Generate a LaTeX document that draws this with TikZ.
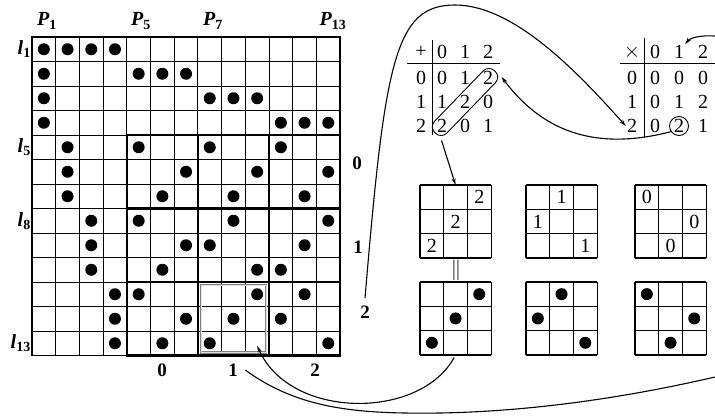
\documentclass[tikz,border=0pt]{standalone}
\usepackage{fontspec}
\setmainfont{Liberation Serif}
\usetikzlibrary{arrows.meta}

\newcommand{\Pl}[2]{{\bfseries\itshape #1}\textsubscript{\bfseries #2}}

\begin{document}
\begin{tikzpicture}[x=1pt,y=1pt,font=\fontsize{20}{22}\selectfont,
  link/.style={line width=1.1pt,-{Stealth[length=7pt,width=4pt]}},
  lab/.style={font=\fontsize{19}{22}\selectfont\bfseries},
  ent/.style={inner sep=1pt},
  thin/.style={line width=1pt},
  heavy/.style={line width=2.5pt}]
\useasboundingbox (0,0) rectangle (715,-416);

% the 13 x 13 grid
\begin{scope}[shift={(32,-37)},x=23.7pt,y=-24.5pt]
\foreach \i in {0,...,13} {
  \draw[thin] (\i,0) -- (\i,13);
  \draw[thin] (0,\i) -- (13,\i);
}
\draw[line width=1.4pt] (0,0) rectangle (13,13);
\draw[heavy] (4,4) rectangle (13,13);
\foreach \k in {7,10} {
  \draw[heavy] (\k,4) -- (\k,13);
  \draw[heavy] (4,\k) -- (13,\k);
}
\foreach \r/\cols in {1/{1,2,3,4},2/{1,5,6,7},3/{1,8,9,10},4/{1,11,12,13},
  5/{2,5,8,11},6/{2,7,10,13},7/{2,6,9,12},8/{3,5,9,13},9/{3,7,8,12},
  10/{3,6,10,11},11/{4,5,10,12},12/{4,7,9,11},13/{4,6,8,13}}
  \foreach \c in \cols
    \fill (\c-0.5,\r-0.5) circle (6pt);
\draw[gray, line width=0.9pt, double=gray!25, double distance=0.8pt]
  ([shift={(3pt,-3pt)}]7,10) rectangle ([shift={(-3pt,3pt)}]10,13);
\coordinate (cell) at (9.5,12.6);
\foreach \r in {1,5,8,13}
  \node[anchor=east, inner sep=1pt] (l\r) at (0,\r-0.5) {\Pl{l}{\r}};
\end{scope}

\node (p1) at (47,-21) {\Pl{P}{1}};
\node (p5) at (141,-21) {\Pl{P}{5}};
\node (p7) at (213,-21) {\Pl{P}{7}};
\node (p13) at (333,-21) {\Pl{P}{13}};

\node[lab] (r0) at (357,-163) {0};
\node[lab] (r1) at (358,-247) {1};
\node[lab] (r2) at (365,-312) {2};
\node[lab] (c0) at (162,-370) {0};
\node[lab] (c1) at (233,-370) {1};
\node[lab] (c2) at (315,-370) {2};

% addition table
\node[ent] (ah) at (421,-52) {+};
\foreach \v [count=\c] in {0,1,2}
  \node[ent] (ah\c) at (419+23*\c,-52) {\v};
\foreach \v/\ents [count=\r] in {0/{0,1,2},1/{1,2,0},2/{2,0,1}} {
  \node[ent] (ar\r) at (421,-54-24*\r) {\v};
  \foreach \e [count=\c] in \ents
    \node[ent] (a\r\c) at (419+23*\c,-54-24*\r) {\e};
}
\draw[line width=1pt] (407,-63) -- (500,-63);
\draw[line width=1pt] (432,-40) -- (432,-135);
\node[draw, line width=0.9pt, rounded corners=8pt, minimum width=86pt,
  minimum height=17pt, rotate=46] (diag) at (465,-102) {};

% multiplication table
\node[ent] (mh) at (632,-52) {$\times$};
\foreach \v [count=\c] in {0,1,2}
  \node[ent] (mh\c) at (631+24*\c,-52) {\v};
\foreach \v/\ents [count=\r] in {0/{0,0,0},1/{0,1,2},2/{0,2,1}} {
  \node[ent] (mr\r) at (632,-54-24*\r) {\v};
  \foreach \e [count=\c] in \ents
    \node[ent] (m\r\c) at (631+24*\c,-54-24*\r) {\e};
}
\draw[line width=1pt] (620,-63) -- (715,-63);
\draw[line width=1pt] (644,-38) -- (644,-137);
\node[draw, circle, line width=0.9pt, minimum size=19pt, inner sep=0pt] (ring) at (m32) {};

% small squares
\foreach \bx/\n/\a/\b/\cc [count=\k] in {420/2/3/2/1,526/1/2/1/3,635/0/1/3/2} {
  \begin{scope}[shift={(\bx,-185)},x=23.7pt,y=-24.3pt]
    \foreach \i in {0,...,3} {
      \draw[line width=1.2pt] (\i,0) -- (\i,3);
      \draw[line width=1.2pt] (0,\i) -- (3,\i);
    }
    \node[ent] (n\k1) at (\a-0.5,0.5) {\n};
    \node[ent] (n\k2) at (\b-0.5,1.5) {\n};
    \node[ent] (n\k3) at (\cc-0.5,2.5) {\n};
    \coordinate (top\k) at (1.5,0);
  \end{scope}
  \begin{scope}[shift={(\bx,-282)},x=23.7pt,y=-24.3pt]
    \foreach \i in {0,...,3} {
      \draw[line width=1.2pt] (\i,0) -- (\i,3);
      \draw[line width=1.2pt] (0,\i) -- (3,\i);
    }
    \fill (\a-0.5,0.5) circle (6pt);
    \fill (\b-0.5,1.5) circle (6pt);
    \fill (\cc-0.5,2.5) circle (6pt);
    \coordinate (bot\k) at (1.5,3);
  \end{scope}
}
\node[font=\fontsize{22}{24}\selectfont] (eq) at (456,-270) {$\|$};

% connectors
\coordinate (peak) at (455,-5);
\coordinate (low) at (440,-413);
\coordinate (offR) at (715,-377);
\coordinate (offT) at (715,-36);
\draw[link] ([yshift=4pt]r2.north) .. controls (385,-60) and (395,-5) .. (peak)
  .. controls (515,-5) and (580,-75) .. (mr3.west);
\draw[link] (ring.215) .. controls (600,-150) and (545,-135) .. (diag.south east);
\draw[link, shorten <=1pt] (diag.south west) -- (top1);
\draw[link, shorten <=3pt] (bot1) .. controls (420,-420) and (290,-420) .. (cell);
\draw[line width=1.1pt] ([xshift=4pt]c1.east) .. controls (300,-410) and (360,-414) .. (low)
  .. controls (550,-411) and (650,-392) .. (offR);
\draw[link] (offT) .. controls (700,-35) and (690,-38) .. (mh2.north east);
\end{tikzpicture}
\end{document}
